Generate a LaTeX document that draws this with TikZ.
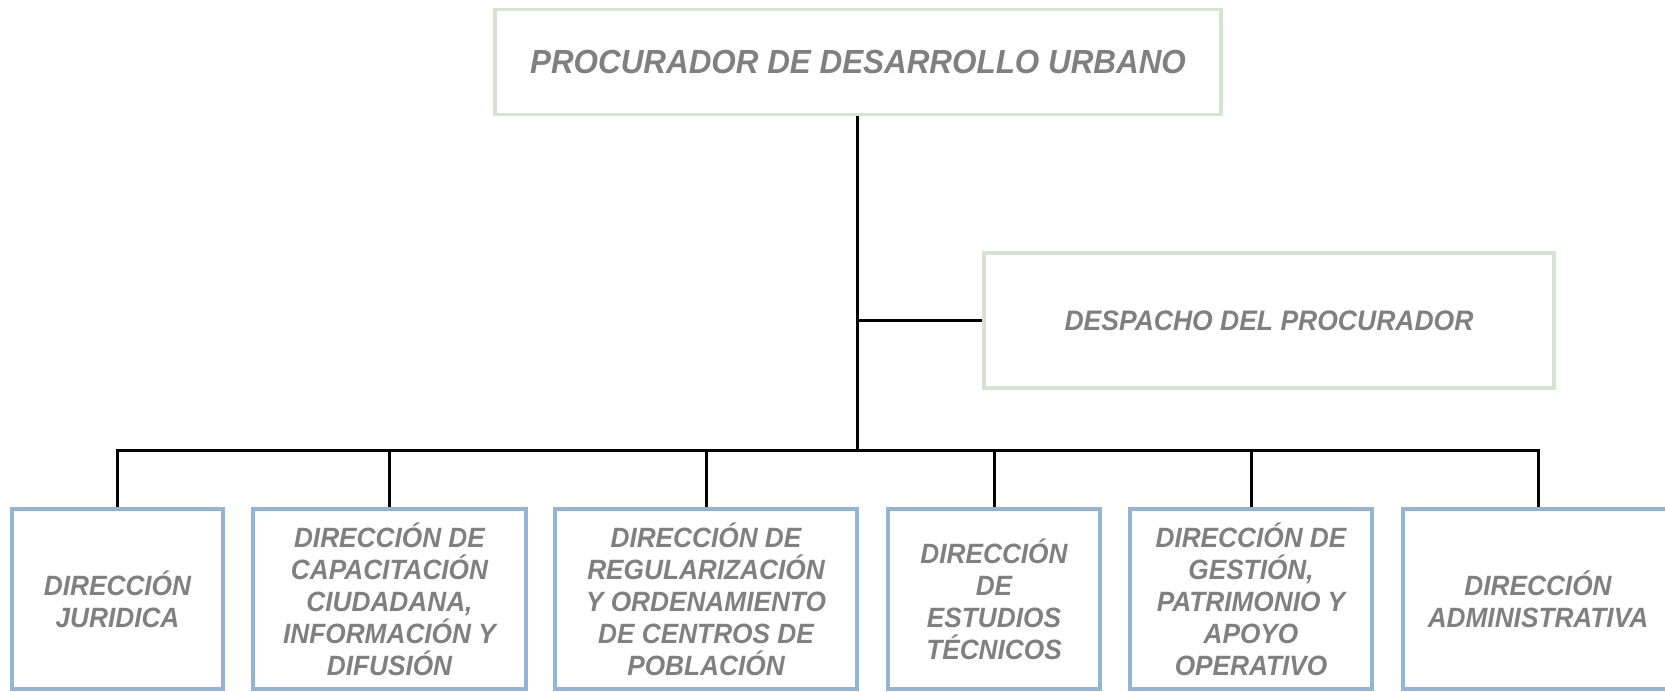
\documentclass[tikz,border=0pt]{standalone}
\usepackage{fontspec}
\setmainfont[FakeStretch=0.94]{Liberation Sans}
\definecolor{greenborder}{RGB}{214,227,210}
\definecolor{blueborder}{RGB}{149,179,215}
\definecolor{txtgray}{RGB}{128,128,128}
\begin{document}
\begin{tikzpicture}[x=1pt,y=-1pt,
  topbox/.style={draw=greenborder, line width=3.5pt, fill=white, inner sep=0pt, text=txtgray,
    font=\fontsize{33.4}{38}\selectfont\bfseries\itshape},
  despbox/.style={draw=greenborder, line width=3.5pt, fill=white, inner sep=0pt, text=txtgray,
    font=\fontsize{28.2}{32}\selectfont\bfseries\itshape},
  dirbox/.style={draw=blueborder, line width=3.5pt, fill=white, inner sep=0pt, text=txtgray,
    align=center, minimum height=180pt,
    font=\fontsize{27.9}{32}\selectfont\bfseries\itshape},
  conn/.style={draw=black, line width=3pt}]
\useasboundingbox (0,0) rectangle (1665,691);
\clip (0,0) rectangle (1665,691);
\fill[white] (0,0) rectangle (1665,691);

\node[topbox, minimum width=726pt, minimum height=105pt] (top) at (858,62) {PROCURADOR DE DESARROLLO URBANO};
\node[despbox, minimum width=570pt, minimum height=135pt] (desp) at (1269,320.5) {DESPACHO DEL PROCURADOR};

\node[dirbox, minimum width=211pt] (d1) at (117.5,599) {DIRECCIÓN\\JURIDICA};
\node[dirbox, minimum width=273pt] (d2) at (389.5,599) {DIRECCIÓN DE\\CAPACITACIÓN\\CIUDADANA,\\INFORMACIÓN Y\\DIFUSIÓN};
\node[dirbox, minimum width=302pt] (d3) at (706,599) {DIRECCIÓN DE\\REGULARIZACIÓN\\Y ORDENAMIENTO\\DE CENTROS DE\\POBLACIÓN};
\node[dirbox, minimum width=212pt] (d4) at (994,599) {DIRECCIÓN\\DE\\ESTUDIOS\\TÉCNICOS};
\node[dirbox, minimum width=242pt] (d5) at (1251,599) {DIRECCIÓN DE\\GESTIÓN,\\PATRIMONIO Y\\APOYO\\OPERATIVO};
\node[dirbox, minimum width=270pt] (d6) at (1538,599) {DIRECCIÓN\\ADMINISTRATIVA};

\coordinate (bus) at (857,450);
\coordinate (mid) at (857,320.5);
\draw[conn] (top.south -| bus) -- (bus);
\draw[conn] (mid) -- (desp.west);
\draw[conn] (d1.north) -- (d1.north |- bus) -- (d6.north |- bus) -- (d6.north);
\draw[conn] (d2.north) -- (d2.north |- bus);
\draw[conn] (d3.north) -- (d3.north |- bus);
\draw[conn] (d4.north) -- (d4.north |- bus);
\draw[conn] (d5.north) -- (d5.north |- bus);
\end{tikzpicture}
\end{document}
